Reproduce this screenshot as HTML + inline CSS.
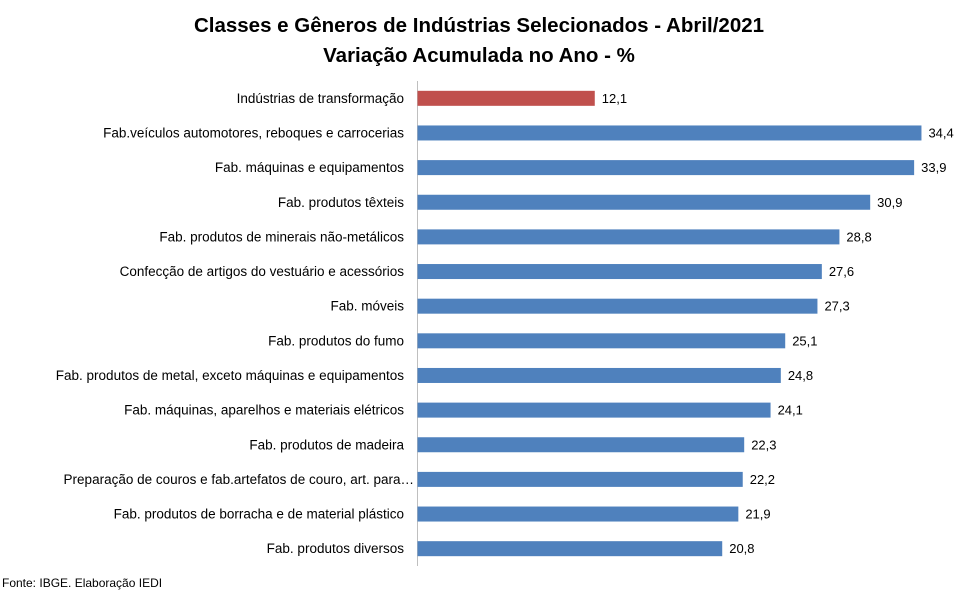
<!DOCTYPE html>
<html><head><meta charset="utf-8"><style>
body{margin:0;background:#fff;}
svg{display:block;font-family:"Liberation Sans",sans-serif;}
</style></head><body>
<svg width="959" height="594" viewBox="0 0 959 594">
<text x="479" y="32" text-anchor="middle" font-size="20.5" font-weight="bold" fill="#000">Classes e Gêneros de Indústrias Selecionados - Abril/2021</text>
<text x="479" y="62" text-anchor="middle" font-size="20.5" font-weight="bold" fill="#000">Variação Acumulada no Ano - %</text>
<line x1="417.5" y1="81" x2="417.5" y2="566" stroke="#bfbfbf"/>
<g id="bars"></g>
<text x="2" y="587" font-size="12" fill="#000">Fonte: IBGE. Elaboração IEDI</text>
</svg>
<script>
const categories=["Indústrias de transformação","Fab.veículos automotores, reboques e carrocerias","Fab. máquinas e equipamentos","Fab. produtos têxteis","Fab. produtos de minerais não-metálicos","Confecção de artigos do vestuário e acessórios","Fab. móveis","Fab. produtos do fumo","Fab. produtos de metal, exceto máquinas e equipamentos","Fab. máquinas, aparelhos e materiais elétricos","Fab. produtos de madeira","Preparação de couros e fab.artefatos de couro, art. para…","Fab. produtos de borracha e de material plástico","Fab. produtos diversos"];
const values=[12.1,34.4,33.9,30.9,28.8,27.6,27.3,25.1,24.8,24.1,22.3,22.2,21.9,20.8];
const valueLabels=["12,1","34,4","33,9","30,9","28,8","27,6","27,3","25,1","24,8","24,1","22,3","22,2","21,9","20,8"];
const NS="http://www.w3.org/2000/svg";
const x0=417.5,pxPerUnit=14.65,plotTop=81,plotBottom=566;
const band=(plotBottom-plotTop)/categories.length;
const xs=v=>x0+v*pxPerUnit;
const ys=i=>plotTop+band*(i+0.5);
const g=document.getElementById('bars');
categories.forEach((c,i)=>{
  const y=ys(i);
  const r=document.createElementNS(NS,'rect');
  r.setAttribute('x',x0);r.setAttribute('y',y-7.5);
  r.setAttribute('width',xs(values[i])-x0);r.setAttribute('height',15);
  r.setAttribute('fill',i===0?'#c0504d':'#4f81bd');
  
  
  g.appendChild(r);
  const t=document.createElementNS(NS,'text');
  t.setAttribute('x',i===11?414:404);t.setAttribute('y',y+4.5);
  t.setAttribute('text-anchor','end');t.setAttribute('font-size','13.5');
  t.textContent=c;
  
  
  g.appendChild(t);
  const v=document.createElementNS(NS,'text');
  v.setAttribute('x',xs(values[i])+7);v.setAttribute('y',y+4.5);
  v.setAttribute('font-size','13');
  v.textContent=valueLabels[i];
  
  
  g.appendChild(v);
});
</script>
</body></html>
